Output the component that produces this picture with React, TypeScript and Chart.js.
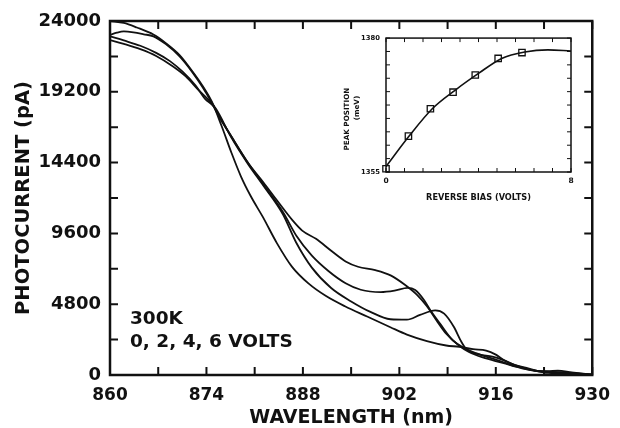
import React, { useEffect, useRef } from "react";
import { Chart, registerables } from "chart.js";

Chart.register(...registerables);

const INK = "#111111";
const FONT = '"DejaVu Sans", "Liberation Sans", sans-serif';

// ---- main chart data (wavelength nm, photocurrent pA) ----
const wlA = [860, 862, 863.9, 866.3, 868.1, 870.1, 872, 873.4, 874.8, 876.2, 877.6, 879, 880.4, 882.2, 884.2, 886.4, 888.8, 891.3, 894.1, 897.4, 900.7, 903.1, 906, 908.8, 910.7, 912.7, 914.6, 916, 917.1, 918.8, 920.7, 923.6, 927, 930];
const pcA = [24000, 23870, 23560, 23080, 22500, 21690, 20560, 19630, 18510, 16880, 15100, 13470, 12150, 10700, 8960, 7350, 6210, 5370, 4660, 3950, 3240, 2740, 2300, 2000, 1910, 1750, 1660, 1380, 1030, 670, 450, 140, 100, 30];

const wlB = [860, 861, 862, 863.4, 864.9, 866.3, 868.1, 870.1, 872, 873.4, 874.8, 875.8, 877.6, 880, 882.3, 884.2, 886.5, 887.9, 889.9, 892.2, 894.2, 896, 898.5, 900.8, 902.8, 904.6, 906, 907.4, 908.8, 910.7, 912.1, 914.1, 917, 919.8, 922.7, 926, 930];
const pcB = [23060, 23210, 23290, 23230, 23100, 22960, 22430, 21600, 20500, 19540, 18440, 17560, 16180, 14400, 13030, 11860, 10480, 9790, 9230, 8390, 7700, 7340, 7110, 6740, 6120, 5420, 4660, 3700, 2800, 1980, 1560, 1190, 820, 450, 220, 180, 20];

const wlC = [860, 862, 864.4, 866.7, 868.7, 870.5, 872.4, 873.8, 875.1, 875.8, 877.6, 880, 882.3, 885.1, 887.1, 889.3, 891.7, 894.2, 896.4, 899.3, 901.3, 903.2, 904.3, 905.6, 906.5, 907.9, 909.8, 911.7, 913.1, 916, 918.8, 921.7, 924.6, 930];
const pcC = [22960, 22680, 22320, 21840, 21280, 20580, 19640, 18720, 18170, 17560, 16180, 14400, 12890, 11050, 9400, 8090, 7050, 6220, 5780, 5620, 5720, 5910, 5760, 5070, 4390, 3490, 2330, 1760, 1480, 1040, 600, 300, 200, 20];

const wlD = [860, 862, 864.4, 866.7, 869.1, 871, 872.9, 874.4, 875.4, 877.6, 880, 882.3, 885.1, 887, 889.3, 892.1, 895, 897.8, 900.7, 903.1, 905, 907.2, 908.5, 909.9, 911, 911.7, 913.5, 915.5, 917, 918.8, 921.7, 923.5, 925, 927, 930];
const pcD = [22710, 22450, 22090, 21630, 20930, 20240, 19290, 18600, 18030, 16110, 14330, 12820, 10900, 9000, 7280, 5900, 4990, 4280, 3780, 3750, 4070, 4380, 4160, 3270, 2250, 1760, 1400, 1250, 1030, 670, 300, 260, 300, 180, 20];

const xTicks = [860, 867, 874, 881, 888, 895, 902, 909, 916, 923, 930];
const xLabels = [860, 874, 888, 902, 916, 930];
const yTicks = [0, 2400, 4800, 7200, 9600, 12000, 14400, 16800, 19200, 21600, 24000];
const yLabels = [0, 4800, 9600, 14400, 19200, 24000];
const noteLines = ["300K", "0, 2, 4, 6 VOLTS"];

// ---- inset data (reverse bias V, peak position meV) ----
const biasPts = [0, 0.97, 1.92, 2.9, 3.86, 4.85, 5.88];
const peakPts = [1355.6, 1361.7, 1366.8, 1369.9, 1373.1, 1376.2, 1377.3];
const biasFit = [0, 1, 2, 3, 4, 5, 6, 7, 8];
const peakFit = [1356.0, 1361.7, 1366.8, 1370.3, 1373.4, 1376.2, 1377.4, 1377.8, 1377.6];
const biasTicks = [0, 0.8, 1.6, 2.4, 3.2, 4, 4.8, 5.6, 6.4, 7.2, 8];
const biasLabels = [0, 8];
const peakTicks = [1355, 1357.5, 1360, 1362.5, 1365, 1367.5, 1370, 1372.5, 1375, 1377.5, 1380];
const peakLabels = [1355, 1380];

function frameTicks(id: string, len: number, lw: number, frameW: number) {
  return {
    id,
    afterDatasetsDraw(chart: any) {
      const { ctx, chartArea: a, scales } = chart;
      ctx.save();
      ctx.strokeStyle = INK;
      ctx.lineWidth = lw;
      ctx.beginPath();
      for (const t of scales.x.ticks) {
        const px = scales.x.getPixelForValue(t.value);
        ctx.moveTo(px, a.bottom);
        ctx.lineTo(px, a.bottom - len);
        ctx.moveTo(px, a.top);
        ctx.lineTo(px, a.top + len);
      }
      for (const t of scales.y.ticks) {
        const py = scales.y.getPixelForValue(t.value);
        ctx.moveTo(a.left, py);
        ctx.lineTo(a.left + len, py);
        ctx.moveTo(a.right, py);
        ctx.lineTo(a.right - len, py);
      }
      ctx.stroke();
      ctx.lineWidth = frameW;
      ctx.strokeRect(a.left, a.top, a.right - a.left, a.bottom - a.top);
      ctx.restore();
    },
  };
}

const notePlugin = {
  id: "note",
  afterDraw(chart: any) {
    const { ctx, chartArea: a } = chart;
    ctx.save();
    ctx.fillStyle = INK;
    ctx.font = `bold 18.5px ${FONT}`;
    ctx.textBaseline = "middle";
    ctx.textAlign = "left";
    ctx.fillText(noteLines[0], a.left + 20, a.bottom - 56);
    ctx.fillText(noteLines[1], a.left + 20, a.bottom - 33);
    ctx.restore();
  },
};

const insetTitlePlugin = {
  id: "insetTitle",
  afterDraw(chart: any) {
    const { ctx, chartArea: a } = chart;
    ctx.save();
    ctx.fillStyle = INK;
    ctx.textAlign = "center";
    ctx.textBaseline = "middle";
    ctx.font = `bold 7.2px ${FONT}`;
    ctx.translate(a.left - 39, a.top + 81);
    ctx.rotate(-Math.PI / 2);
    ctx.fillText("PEAK POSITION", 0, 0);
    ctx.restore();
    ctx.save();
    ctx.fillStyle = INK;
    ctx.textAlign = "center";
    ctx.textBaseline = "middle";
    ctx.font = `bold 7.2px ${FONT}`;
    ctx.translate(a.left - 29, a.top + 70);
    ctx.rotate(-Math.PI / 2);
    ctx.fillText("(meV)", 0, 0);
    ctx.restore();
  },
};

function toXY(xs: number[], ys: number[]) {
  return xs.map((x, i) => ({ x, y: ys[i] }));
}

export default function App() {
  const mainRef = useRef<HTMLCanvasElement | null>(null);
  const insetRef = useRef<HTMLCanvasElement | null>(null);

  useEffect(() => {
    document.body.style.margin = "0";
    document.body.style.background = "#fff";
    const curves = [
      [wlA, pcA],
      [wlB, pcB],
      [wlC, pcC],
      [wlD, pcD],
    ];
    const main = new Chart(mainRef.current as HTMLCanvasElement, {
      type: "line",
      data: {
        datasets: curves.map(([xs, ys]) => ({
          data: toXY(xs, ys),
          borderColor: INK,
          borderWidth: 1.8,
          pointRadius: 0,
          fill: false,
          cubicInterpolationMode: "monotone" as const,
        })),
      },
      options: {
        animation: false,
        responsive: false,
        layout: { padding: { top: 21, right: 22, left: 0, bottom: 0 } },
        plugins: { legend: { display: false }, tooltip: { enabled: false } },
        scales: {
          x: {
            type: "linear",
            min: 860,
            max: 930,
            afterBuildTicks: (s: any) => {
              s.ticks = xTicks.map((v) => ({ value: v }));
            },
            afterFit: (s: any) => {
              s.height = 53;
            },
            grid: { display: false, drawTicks: false },
            border: { display: false },
            ticks: {
              autoSkip: false,
              maxRotation: 0,
              padding: 10,
              color: INK,
              font: { family: FONT, size: 17, weight: "bold" },
              callback: (v: any) => (xLabels.includes(Number(v)) ? String(v) : ""),
            },
            title: {
              display: true,
              text: "WAVELENGTH (nm)",
              color: INK,
              font: { family: FONT, size: 19, weight: "bold", lineHeight: 1 },
              padding: { top: 0, bottom: 0 },
            },
          },
          y: {
            type: "linear",
            min: 0,
            max: 24000,
            afterBuildTicks: (s: any) => {
              s.ticks = yTicks.map((v) => ({ value: v }));
            },
            afterFit: (s: any) => {
              s.width = 110;
            },
            grid: { display: false, drawTicks: false },
            border: { display: false },
            ticks: {
              autoSkip: false,
              padding: 9,
              color: INK,
              font: { family: FONT, size: 18, weight: "bold" },
              callback: (v: any) => (yLabels.includes(Number(v)) ? String(v) : ""),
            },
            title: {
              display: true,
              text: "PHOTOCURRENT (pA)",
              color: INK,
              font: { family: FONT, size: 19.5, weight: "bold" },
              padding: { top: 12, bottom: 0 },
            },
          },
        },
      },
      plugins: [frameTicks("mainFrame", 8, 2, 2.5), notePlugin],
    });

    const inset = new Chart(insetRef.current as HTMLCanvasElement, {
      type: "line",
      data: {
        datasets: [
          {
            data: toXY(biasFit, peakFit),
            borderColor: INK,
            borderWidth: 1.6,
            pointRadius: 0,
            fill: false,
            cubicInterpolationMode: "monotone" as const,
          },
          {
            data: toXY(biasPts, peakPts),
            showLine: false,
            borderColor: INK,
            backgroundColor: "#ffffff",
            pointStyle: "rect",
            pointRadius: 4.5,
            borderWidth: 1.3,
            clip: false as any,
          },
        ],
      },
      options: {
        animation: false,
        responsive: false,
        layout: { padding: { top: 9, right: 29, left: 0, bottom: 0 } },
        plugins: { legend: { display: false }, tooltip: { enabled: false } },
        scales: {
          x: {
            type: "linear",
            min: 0,
            max: 8,
            afterBuildTicks: (s: any) => {
              s.ticks = biasTicks.map((v) => ({ value: v }));
            },
            afterFit: (s: any) => {
              s.height = 36;
            },
            grid: { display: false, drawTicks: false },
            border: { display: false },
            ticks: {
              autoSkip: false,
              maxRotation: 0,
              padding: 5,
              color: INK,
              font: { family: FONT, size: 7.5, weight: "bold" },
              callback: (v: any) => (biasLabels.includes(Number(v)) ? String(v) : ""),
            },
            title: {
              display: true,
              text: "REVERSE BIAS (VOLTS)",
              color: INK,
              font: { family: FONT, size: 8.2, weight: "bold" },
              padding: { top: 0, bottom: 5 },
            },
          },
          y: {
            type: "linear",
            min: 1355,
            max: 1380,
            afterBuildTicks: (s: any) => {
              s.ticks = peakTicks.map((v) => ({ value: v }));
            },
            afterFit: (s: any) => {
              s.width = 56;
            },
            grid: { display: false, drawTicks: false },
            border: { display: false },
            ticks: {
              autoSkip: false,
              padding: 6,
              color: INK,
              font: { family: FONT, size: 6.8, weight: "bold" },
              callback: (v: any) => (peakLabels.includes(Number(v)) ? String(v) : ""),
            },
          },
        },
      },
      plugins: [frameTicks("insetFrame", 4, 1, 1.5), insetTitlePlugin],
    });

    return () => {
      main.destroy();
      inset.destroy();
    };
  }, []);

  return (
    <div style={{ position: "relative", width: 620, height: 428, background: "#fff" }}>
      <canvas ref={mainRef} width={620} height={428} style={{ display: "block" }} />
      <canvas
        ref={insetRef}
        width={270}
        height={180}
        style={{ position: "absolute", left: 330, top: 28, width: 270, height: 180 }}
      />
    </div>
  );
}
